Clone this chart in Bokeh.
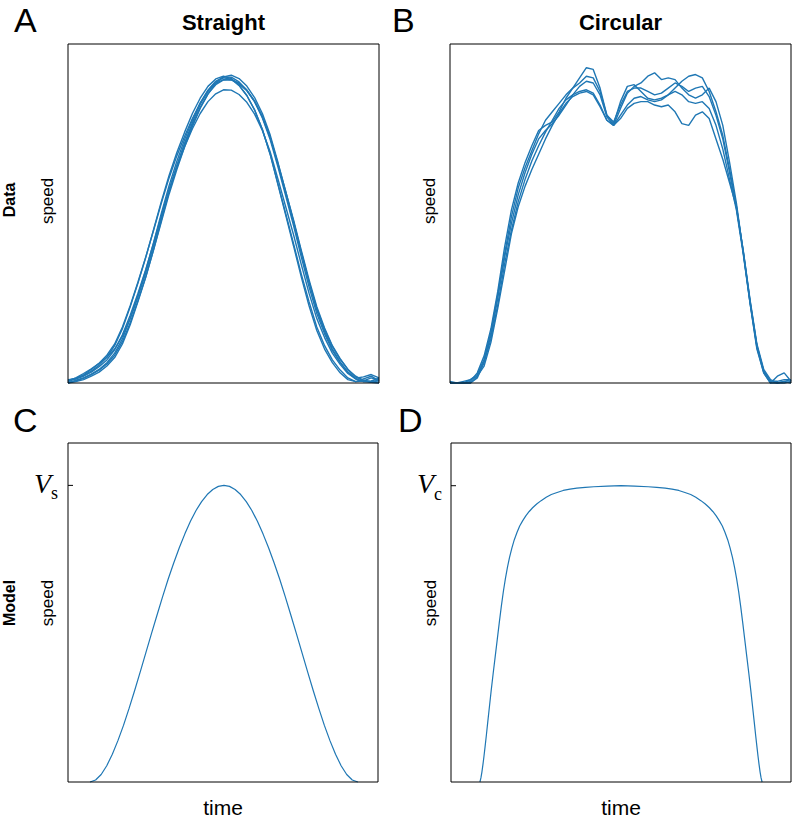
import math
import numpy as np
from bokeh.plotting import figure
from bokeh.models import Label, Range1d, BoxAnnotation
from bokeh.layouts import column, row
from bokeh.embed import file_html
from bokeh.resources import INLINE

BLUE = "#1f77b4"
SANS = "Liberation Sans"
SERIF = "Liberation Serif"

# ---------------- data ----------------
# A: measured speed profiles, straight movements (normalised time, 41 samples)
time_straight = np.linspace(0, 1, 41)
straight_traces = [
    [0.008, 0.014, 0.022, 0.035, 0.052, 0.076, 0.110, 0.160, 0.225, 0.295, 0.370, 0.452, 0.535, 0.612, 0.680, 0.740, 0.795, 0.840, 0.875, 0.897,
     0.905, 0.898, 0.878, 0.848, 0.806, 0.748, 0.675, 0.588, 0.500, 0.412, 0.322, 0.240, 0.165, 0.110, 0.068, 0.038, 0.015, 0.004, 0.006, 0.015, 0.008],
    [0.002, 0.006, 0.014, 0.025, 0.038, 0.056, 0.082, 0.122, 0.178, 0.243, 0.313, 0.392, 0.475, 0.557, 0.630, 0.697, 0.757, 0.810, 0.852, 0.884,
     0.903, 0.908, 0.898, 0.876, 0.842, 0.795, 0.732, 0.651, 0.565, 0.478, 0.387, 0.298, 0.215, 0.152, 0.100, 0.062, 0.032, 0.012, 0.004, 0.006, 0.014],
    [0.010, 0.012, 0.020, 0.032, 0.048, 0.068, 0.098, 0.142, 0.200, 0.265, 0.335, 0.412, 0.493, 0.570, 0.637, 0.697, 0.750, 0.795, 0.830, 0.853,
     0.865, 0.864, 0.851, 0.828, 0.793, 0.745, 0.682, 0.602, 0.520, 0.438, 0.350, 0.265, 0.190, 0.134, 0.088, 0.055, 0.028, 0.012, 0.004, 0.002, 0.010],
    [0.004, 0.012, 0.024, 0.040, 0.058, 0.082, 0.115, 0.165, 0.228, 0.298, 0.372, 0.450, 0.530, 0.605, 0.670, 0.728, 0.780, 0.825, 0.860, 0.884,
     0.895, 0.894, 0.882, 0.862, 0.830, 0.785, 0.725, 0.648, 0.565, 0.482, 0.392, 0.305, 0.225, 0.162, 0.110, 0.072, 0.040, 0.018, 0.008, 0.004, 0.006],
    [0.000, 0.004, 0.010, 0.020, 0.032, 0.050, 0.075, 0.115, 0.172, 0.240, 0.312, 0.393, 0.480, 0.565, 0.640, 0.707, 0.768, 0.822, 0.862, 0.889,
     0.900, 0.896, 0.878, 0.848, 0.805, 0.748, 0.675, 0.585, 0.495, 0.405, 0.313, 0.228, 0.155, 0.100, 0.060, 0.030, 0.010, 0.004, 0.012, 0.020, 0.006],
    [0.006, 0.015, 0.028, 0.042, 0.058, 0.076, 0.100, 0.138, 0.190, 0.254, 0.325, 0.404, 0.487, 0.568, 0.640, 0.705, 0.762, 0.813, 0.853, 0.880,
     0.894, 0.895, 0.885, 0.864, 0.832, 0.786, 0.724, 0.645, 0.560, 0.475, 0.385, 0.298, 0.220, 0.158, 0.108, 0.070, 0.040, 0.020, 0.008, 0.002, 0.000],
    [0.000, 0.008, 0.015, 0.026, 0.040, 0.060, 0.088, 0.130, 0.190, 0.258, 0.332, 0.414, 0.500, 0.582, 0.654, 0.718, 0.776, 0.826, 0.864, 0.890,
     0.903, 0.902, 0.888, 0.864, 0.830, 0.782, 0.718, 0.638, 0.552, 0.465, 0.372, 0.284, 0.205, 0.145, 0.096, 0.060, 0.032, 0.014, 0.018, 0.025, 0.015],
]

# B: measured speed profiles, circular movements (normalised time, 51 samples)
time_circular = np.linspace(0, 1, 51)
circular_traces = [
    [0, 0, 0, 0.005, 0.03, 0.08, 0.16, 0.27, 0.40, 0.51,
     0.59, 0.65, 0.70, 0.745, 0.76, 0.77, 0.80, 0.84, 0.87, 0.90,
     0.93, 0.925, 0.87, 0.79, 0.765, 0.83, 0.875, 0.88, 0.86, 0.84,
     0.835, 0.84, 0.85, 0.87, 0.89, 0.905, 0.91, 0.90, 0.86, 0.80,
     0.73, 0.63, 0.52, 0.39, 0.24, 0.11, 0.035, 0.005, 0.0, 0.005,
     0.01],
    [0, 0, 0, 0, 0.02, 0.065, 0.14, 0.25, 0.37, 0.47,
     0.555, 0.62, 0.675, 0.72, 0.745, 0.765, 0.79, 0.82, 0.85, 0.875,
     0.89, 0.885, 0.85, 0.785, 0.76, 0.81, 0.855, 0.875, 0.885, 0.905,
     0.915, 0.895, 0.90, 0.895, 0.87, 0.85, 0.84, 0.85, 0.87, 0.83,
     0.76, 0.65, 0.53, 0.385, 0.235, 0.10, 0.03, 0.0, 0.02, 0.03,
     0.005],
    [0, 0, 0, 0, 0.015, 0.06, 0.13, 0.23, 0.35, 0.45,
     0.535, 0.60, 0.655, 0.70, 0.74, 0.775, 0.81, 0.835, 0.85, 0.86,
     0.865, 0.855, 0.82, 0.775, 0.76, 0.78, 0.81, 0.825, 0.83, 0.83,
     0.82, 0.815, 0.82, 0.80, 0.765, 0.76, 0.79, 0.80, 0.78, 0.72,
     0.66, 0.59, 0.52, 0.385, 0.24, 0.11, 0.035, 0.005, 0.005, 0.01,
     0.01],
    [0.005, 0, 0, 0.01, 0.025, 0.07, 0.15, 0.26, 0.38, 0.49,
     0.575, 0.635, 0.685, 0.735, 0.775, 0.80, 0.825, 0.85, 0.87, 0.885,
     0.905, 0.90, 0.86, 0.79, 0.77, 0.82, 0.86, 0.87, 0.87, 0.86,
     0.85, 0.855, 0.87, 0.885, 0.875, 0.86, 0.87, 0.875, 0.845, 0.79,
     0.72, 0.62, 0.515, 0.39, 0.245, 0.115, 0.04, 0.01, 0, 0,
     0.005],
    [0, 0, 0.005, 0.01, 0.02, 0.05, 0.12, 0.22, 0.33, 0.44,
     0.52, 0.58, 0.63, 0.675, 0.72, 0.76, 0.795, 0.825, 0.845, 0.855,
     0.86, 0.85, 0.815, 0.775, 0.76, 0.79, 0.82, 0.84, 0.845, 0.835,
     0.83, 0.835, 0.85, 0.86, 0.85, 0.83, 0.825, 0.83, 0.81, 0.76,
     0.69, 0.60, 0.51, 0.38, 0.235, 0.105, 0.03, 0, 0, 0.005,
     0],
]

# C: model speed, straight movement
v_straight = 0.875
time_model_straight = np.linspace(0.071, 0.935, 49)
speed_model_straight = [0.000, 0.006, 0.022, 0.048, 0.082, 0.122, 0.167, 0.217, 0.270, 0.325, 0.381, 0.437, 0.492,
                        0.546, 0.598, 0.646, 0.691, 0.732, 0.769, 0.801, 0.827, 0.848, 0.863, 0.872, 0.875,
                        0.872, 0.863, 0.848, 0.827, 0.801, 0.769, 0.732, 0.691, 0.646, 0.598, 0.546, 0.492,
                        0.437, 0.381, 0.325, 0.270, 0.217, 0.167, 0.122, 0.082, 0.048, 0.022, 0.006, 0.000]

# D: model speed, circular movement
v_circular = 0.874
time_model_circular = [0.085, 0.088, 0.091, 0.094, 0.097, 0.100, 0.104, 0.108, 0.113, 0.118, 0.124, 0.130, 0.136,
                       0.142, 0.148, 0.154, 0.160, 0.166, 0.172, 0.179, 0.186, 0.194, 0.202, 0.211, 0.220, 0.230,
                       0.240, 0.252, 0.265, 0.280, 0.295, 0.312, 0.330, 0.350, 0.370, 0.395, 0.420, 0.460, 0.500,
                       0.540, 0.580, 0.605, 0.630, 0.650, 0.670, 0.688, 0.705, 0.720, 0.735, 0.748, 0.760, 0.770,
                       0.780, 0.789, 0.798, 0.806, 0.814, 0.821, 0.828, 0.834, 0.840, 0.846, 0.852, 0.858, 0.864,
                       0.870, 0.876, 0.882, 0.887, 0.892, 0.896, 0.900, 0.903, 0.906, 0.909, 0.912, 0.915]
speed_model_circular = [0.0, 0.012, 0.030, 0.052, 0.076, 0.102, 0.138, 0.176, 0.222, 0.268, 0.320, 0.370, 0.420,
                        0.470, 0.518, 0.562, 0.600, 0.633, 0.662, 0.690, 0.714, 0.736, 0.755, 0.771, 0.785, 0.798,
                        0.809, 0.820, 0.830, 0.840, 0.848, 0.854, 0.860, 0.864, 0.867, 0.869, 0.871, 0.873, 0.874,
                        0.873, 0.871, 0.869, 0.867, 0.864, 0.860, 0.854, 0.848, 0.840, 0.830, 0.820, 0.809, 0.798,
                        0.785, 0.771, 0.755, 0.736, 0.714, 0.690, 0.662, 0.633, 0.600, 0.562, 0.518, 0.470, 0.420,
                        0.370, 0.320, 0.268, 0.222, 0.176, 0.138, 0.102, 0.076, 0.052, 0.030, 0.012, 0.0]

panel_letters = ["A", "B", "C", "D"]
col_titles = ["Straight", "Circular"]
row_titles = ["Data", "Model"]


# ---------------- layout helpers ----------------
def make_panel(cx, cy, cw, ch, bl, bt, bw, bh):
    """Figure whose frame is the whole canvas; data box (0..1, 0..1) maps onto the
    panel rectangle (bl, bt, bw, bh) given in page pixels."""
    x0 = (cx - bl) / bw
    x1 = (cx + cw - bl) / bw
    y0 = -(cy + ch - (bt + bh)) / bh
    y1 = 1 + (bt - cy) / bh
    p = figure(frame_width=cw, frame_height=ch, min_border=0,
               x_range=Range1d(x0, x1), y_range=Range1d(y0, y1),
               x_axis_type=None, y_axis_type=None,
               toolbar_location=None, tools="", output_backend="svg")
    p.title.visible = False
    p.grid.visible = False
    p.outline_line_color = None
    p.background_fill_color = "white"
    p.border_fill_color = "white"
    p.add_layout(BoxAnnotation(left=0, right=1, bottom=0, top=1, fill_color=None, fill_alpha=0,
                               line_color="black", line_alpha=1, line_width=1))
    return p


def lab(p, x, y, text, xo=0, yo=0, size="17px", style="normal", font=SANS,
        align="center", angle=0.0):
    p.add_layout(Label(x=x, y=y, x_offset=xo, y_offset=yo, text=text, angle=angle,
                       text_font=font, text_font_size=size, text_font_style=style,
                       text_align=align, text_baseline="middle", text_color="black"))


def v_tick(p, v, sub):
    p.ray(x=[0], y=[v], length=5, length_units="screen", angle=0, line_color="black", line_width=1)
    lab(p, 0, v, "V", xo=-17, yo=2, size="28px", style="italic", font=SERIF, align="right")
    lab(p, 0, v, sub, xo=-17, yo=-8, size="18px", font=SERIF, align="left")


VERT = math.pi / 2

# ---------------- panels ----------------
pA = make_panel(0, 0, 380, 392, 67.5, 43.5, 311, 339)
for tr in straight_traces:
    pA.line(time_straight, tr, line_color=BLUE, line_width=1.4)
lab(pA, 0, 1, panel_letters[0], xo=-54, yo=24, size="34px", align="left")
lab(pA, 0.5, 1, col_titles[0], yo=22, size="22px", style="bold")
lab(pA, 0, 0.54, row_titles[0], xo=-59, size="16px", style="bold", angle=VERT)
lab(pA, 0, 0.537, "speed", xo=-21, angle=VERT)

pB = make_panel(380, 0, 414, 392, 449.5, 43.5, 341, 339)
for tr in circular_traces:
    pB.line(time_circular, tr, line_color=BLUE, line_width=1.4)
lab(pB, 0, 1, panel_letters[1], xo=-58, yo=24, size="34px", align="left")
lab(pB, 0.5, 1, col_titles[1], yo=22, size="22px", style="bold")
lab(pB, 0, 0.537, "speed", xo=-21, angle=VERT)

pC = make_panel(0, 392, 380, 425, 67.5, 442.5, 310, 339)
pC.line(time_model_straight, speed_model_straight, line_color=BLUE, line_width=1.2)
v_tick(pC, v_straight, "s")
lab(pC, 0, 1, panel_letters[2], xo=-55, yo=23, size="34px", align="left")
lab(pC, 0, 0.528, row_titles[1], xo=-59, size="16px", style="bold", angle=VERT)
lab(pC, 0, 0.528, "speed", xo=-21, angle=VERT)
lab(pC, 0.5, 0, "time", yo=-25, size="21px")

pD = make_panel(380, 392, 414, 425, 450.5, 442.5, 340, 339)
pD.line(time_model_circular, speed_model_circular, line_color=BLUE, line_width=1.2)
v_tick(pD, v_circular, "c")
lab(pD, 0, 1, panel_letters[3], xo=-53, yo=23, size="34px", align="left")
lab(pD, 0, 0.528, "speed", xo=-21, angle=VERT)
lab(pD, 0.5, 0, "time", yo=-25, size="21px")

layout = column(row(pA, pB), row(pC, pD))
open("out.html", "w").write(file_html(layout, INLINE))
